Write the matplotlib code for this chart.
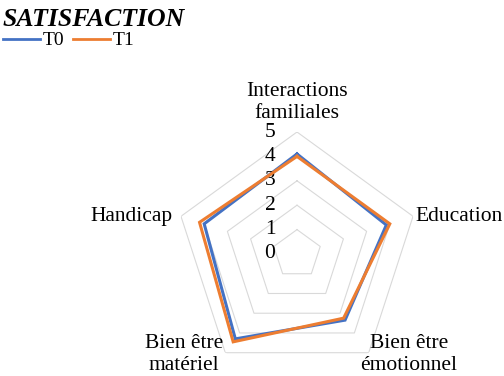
import numpy as np
import matplotlib
matplotlib.use('Agg')
import matplotlib.pyplot as plt
from matplotlib.lines import Line2D

plt.rcParams['font.family'] = ['Liberation Serif', 'DejaVu Serif']

categories = ['Interactions\nfamiliales', 'Education', 'Bien être\némotionnel',
              'Bien être\nmatériel', 'Handicap']
t0 = [4.1, 3.85, 3.35, 4.3, 4.0]
t1 = [4.0, 4.0, 3.25, 4.45, 4.2]
ticks = [0, 1, 2, 3, 4, 5]

# pixel offsets of the category labels from the outer vertex
label_pos = [((0, 9), 'center', 'bottom'),
             ((2, 0), 'left', 'center'),
             ((40, -2), 'center', 'center'),
             ((-41, -2), 'center', 'center'),
             ((-8, 0), 'right', 'center')]

blue = '#4472C4'
orange = '#ED7D31'
grid_col = '#D9D9D9'

fig = plt.figure(figsize=(5.04, 3.76), dpi=100)
ax = fig.add_axes([175 / 504, 0.0, 244 / 504, 244 / 376], projection='polar')
ax.set_theta_zero_location('N')
ax.set_theta_direction(-1)
ax.set_ylim(0, 5)
ax.grid(False)
ax.spines['polar'].set_visible(False)
ax.set_xticks([])
ax.set_yticks([])
ax.patch.set_alpha(0)

n = len(categories)
theta = np.linspace(0, 2 * np.pi, n, endpoint=False)
th_closed = np.append(theta, theta[0])

# pentagon rings
for r in ticks[1:]:
    ax.plot(th_closed, [r] * (n + 1), color=grid_col, lw=0.8, zorder=1)

ax.plot(th_closed, t0 + [t0[0]], color=blue, lw=2.2, zorder=3, solid_joinstyle='miter')
ax.plot(th_closed, t1 + [t1[0]], color=orange, lw=2.2, zorder=4, solid_joinstyle='miter')

for v in ticks:
    ax.annotate(str(v), xy=(0, v), xytext=(-27, 0), textcoords='offset pixels',
                ha='center', va='center', fontsize=15.5, annotation_clip=False)

for th, lab, (off, ha, va) in zip(theta, categories, label_pos):
    ax.annotate(lab, xy=(th, 5), xytext=off, textcoords='offset pixels',
                ha=ha, va=va, fontsize=15.5, linespacing=1.2, annotation_clip=False)

fig.text(0.006, 0.978, 'SATISFACTION', fontsize=18.5, fontweight='bold',
         fontstyle='italic', ha='left', va='top')

handles = [Line2D([], [], color=blue, lw=2),
           Line2D([], [], color=orange, lw=2)]
fig.legend(handles, ['T0', 'T1'], loc='center left', bbox_to_anchor=(0.006, 0.892),
           ncol=2, frameon=False, fontsize=14, handlelength=1.9,
           handletextpad=0.15, columnspacing=0.45, borderpad=0, borderaxespad=0)

fig.savefig('out.png', dpi=100)
